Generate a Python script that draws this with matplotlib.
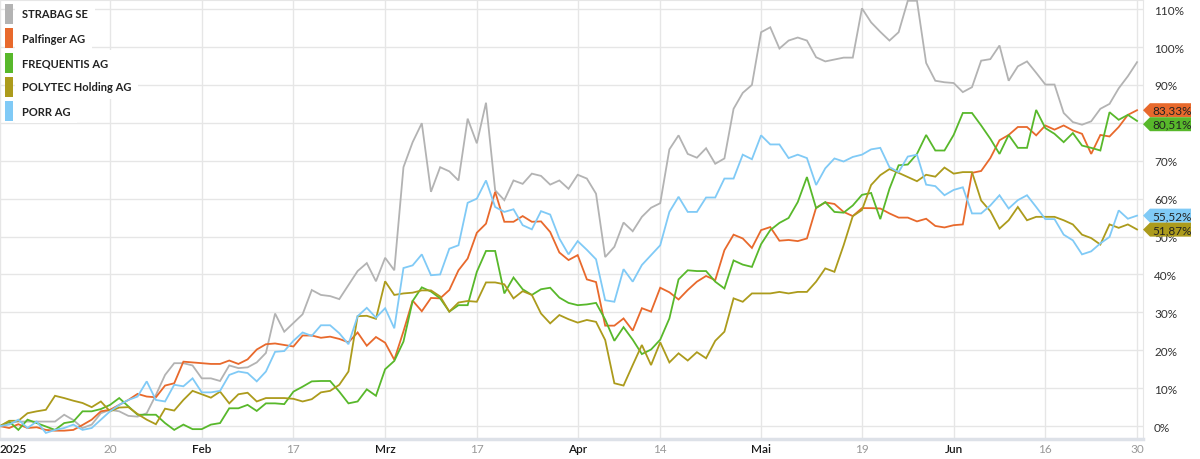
import numpy as np
import pandas as pd
import matplotlib
matplotlib.use('Agg')
import matplotlib.pyplot as plt
from matplotlib.patches import Polygon, Rectangle

plt.rcParams['font.family'] = ['Lato', 'DejaVu Sans']

# trading days of the Vienna exchange, H1 2025
holidays = ['2025-04-18', '2025-04-21', '2025-05-01']
dates = pd.bdate_range('2025-01-02', '2025-06-30')
dates = dates[~dates.isin(pd.to_datetime(holidays))]

names = ['STRABAG SE', 'Palfinger AG', 'FREQUENTIS AG', 'POLYTEC Holding AG', 'PORR AG']
colors = ['#b3b3b3', '#e8692c', '#58b82b', '#ac9b1c', '#80caf6']

# performance in % since 2025-01-02
strabag = [0, 0.8, 1.2, 1.2, 1.2, 1.2, 1.2, 3.0, 1.6, -0.5, 0.4, 3.4, 4.3, 3.9, 2.7, 2.5, 3.4, 8.2, 13.5, 16.6,
           16.6, 16.0, 12.6, 12.6, 11.9, 16.0, 15.3, 15.5, 16.8, 19.3, 29.7, 24.9, 27.2, 29.5, 35.9, 34.6, 34.3, 33.5, 37.2, 40.9,
           43.0, 38.2, 44.4, 41.1, 68.3, 74.9, 79.9, 61.8, 68.3, 67.2, 64.8, 81.1, 74.6, 85.3, 62.2, 59.6, 64.8, 63.9, 66.6, 66.0,
           63.7, 64.8, 62.6, 66.3, 65.3, 61.3, 44.6, 47.3, 53.7, 51.4, 55.2, 57.6, 58.8, 73.0, 76.7, 71.8, 70.8, 73.3, 69.2, 70.6,
           83.7, 87.9, 90.0, 103.9, 105.2, 99.6, 101.7, 102.5, 101.7, 97.3, 96.2, 96.7, 97.2, 97.2, 110.2, 106.5, 104.0, 101.7, 103.9, 112.2,
           112.2, 95.8, 91.1, 90.7, 90.5, 88.1, 89.4, 96.4, 96.8, 100.4, 91.1, 94.9, 96.2, 93.2, 90.1, 90.1, 82.6, 80.2, 79.5, 80.4,
           83.7, 85.0, 89.1, 92.3, 96.0]
palfinger = [0, -0.5, 0.5, -0.5, -0.3, -1.0, -1.2, -1.2, -1.0, 0.3, 1.7, 3.9, 4.3, 5.6, 6.9, 8.5, 7.8, 7.6, 10.7, 11.3,
             17.0, 16.8, 16.6, 16.4, 16.4, 17.3, 16.4, 17.6, 20.2, 21.6, 21.8, 21.4, 21.0, 23.9, 23.9, 23.3, 23.6, 23.0, 22.1, 24.7,
             21.2, 23.5, 22.0, 17.5, 25.0, 33.1, 30.3, 33.8, 33.7, 35.9, 41.1, 44.2, 51.0, 53.4, 61.8, 53.9, 53.9, 55.4, 53.9, 54.0,
             51.2, 45.8, 43.8, 45.1, 38.7, 38.0, 26.5, 26.5, 28.4, 25.2, 31.1, 30.2, 36.5, 35.3, 33.4, 35.9, 38.1, 39.6, 38.5, 46.4,
             50.5, 49.5, 47.0, 51.7, 52.5, 48.9, 49.1, 48.8, 49.5, 57.6, 59.0, 58.6, 56.5, 55.4, 57.5, 57.5, 57.4, 56.1, 55.0, 55.0,
             54.0, 54.7, 52.8, 52.4, 53.0, 53.2, 66.8, 67.3, 70.7, 75.4, 76.8, 78.9, 78.9, 76.7, 79.3, 78.2, 79.3, 78.0, 77.1, 71.8,
             76.8, 76.4, 78.9, 82.1, 83.33]
frequentis = [0, 1.2, -1.0, 1.7, 0.8, -0.1, -1.0, 0.8, 1.2, 3.9, 3.9, 4.5, 5.6, 7.4, 5.2, 3.0, 3.0, 3.0, 0.8, -1.0,
              0.4, -0.8, -0.8, 0.4, 0.8, 4.7, 4.7, 5.6, 4.0, 6.0, 6.0, 5.8, 9.1, 10.4, 11.8, 11.9, 11.9, 9.1, 6.0, 6.5,
              9.7, 8.0, 15.0, 17.2, 22.3, 33.0, 36.6, 35.5, 33.7, 30.2, 31.9, 31.9, 40.7, 46.2, 46.2, 35.0, 39.2, 36.1, 34.6, 36.1,
              36.5, 33.9, 32.5, 31.9, 32.1, 32.5, 28.1, 22.5, 26.1, 22.8, 19.0, 20.2, 22.8, 28.4, 38.7, 41.1, 40.9, 40.9, 38.1, 36.3,
              43.7, 42.6, 42.0, 48.0, 51.7, 53.6, 54.9, 59.1, 65.7, 57.5, 59.1, 56.5, 56.3, 58.2, 61.0, 61.5, 54.6, 62.6, 68.8, 69.0,
              71.8, 76.8, 72.7, 72.7, 76.8, 82.6, 82.6, 79.3, 75.8, 71.8, 76.8, 73.4, 73.4, 83.4, 78.6, 77.1, 74.9, 77.3, 74.0, 73.4,
              72.7, 82.8, 80.8, 82.1, 80.51]
polytec = [0, 1.4, 1.4, 3.4, 3.9, 4.3, 8.0, 7.4, 6.7, 6.1, 5.0, 6.5, 3.9, 4.9, 5.0, 3.2, 1.7, 0.5, 4.6, 4.1,
           6.9, 9.3, 8.4, 7.5, 9.1, 6.0, 8.4, 8.8, 6.5, 7.4, 7.4, 7.4, 7.2, 6.5, 7.1, 8.9, 9.3, 10.9, 14.4, 29.0,
           29.1, 28.3, 38.2, 34.6, 35.0, 35.2, 35.8, 35.8, 34.2, 30.2, 32.6, 33.0, 32.8, 37.9, 37.9, 37.4, 33.7, 35.6, 34.6, 29.7,
           27.1, 29.3, 28.2, 27.3, 28.0, 27.5, 22.7, 11.3, 10.7, 16.1, 21.4, 16.1, 22.1, 16.8, 19.2, 17.3, 19.5, 17.9, 22.5, 24.9,
           33.7, 32.8, 35.0, 35.0, 35.0, 35.4, 35.0, 35.4, 35.4, 38.1, 41.6, 40.7, 47.7, 55.4, 57.0, 63.6, 66.2, 67.8, 66.8, 65.7,
           64.6, 66.3, 65.8, 68.2, 66.6, 67.0, 67.0, 59.5, 56.7, 52.1, 54.3, 57.8, 54.3, 55.2, 55.2, 55.2, 54.3, 53.2, 50.5, 49.6,
           47.9, 53.2, 52.3, 53.2, 51.87]
porr = [0, 0.4, 1.7, -0.5, 1.2, -1.8, -1.0, -0.5, 0.4, -1.0, -0.5, 1.7, 3.9, 5.6, 6.9, 7.8, 11.8, 6.9, 6.5, 10.9,
        10.5, 12.6, 8.9, 8.9, 9.3, 13.5, 14.4, 14.0, 11.8, 14.4, 19.6, 19.8, 22.5, 24.7, 23.8, 26.6, 26.6, 24.5, 21.6, 29.0,
        31.2, 28.6, 31.1, 25.8, 41.7, 42.4, 45.3, 39.8, 40.0, 46.8, 47.7, 58.9, 60.0, 64.8, 57.8, 56.5, 57.2, 53.0, 51.9, 56.7,
        55.8, 49.5, 45.3, 48.8, 46.5, 44.0, 33.2, 32.8, 41.4, 38.1, 42.5, 45.1, 47.7, 56.5, 60.5, 56.5, 56.5, 60.3, 60.3, 65.3,
        65.3, 71.6, 70.4, 76.7, 74.3, 74.3, 70.7, 71.6, 70.7, 63.6, 68.0, 70.6, 69.8, 71.0, 71.6, 73.0, 73.4, 68.3, 67.0, 71.1,
        71.6, 63.7, 63.3, 60.9, 62.3, 63.0, 56.1, 56.1, 58.2, 60.9, 57.4, 59.6, 60.9, 57.8, 54.6, 54.6, 50.5, 49.0, 45.3, 46.1,
        48.2, 49.9, 56.9, 54.7, 55.52]

tick_dates = ['2025-01-02', '2025-01-20', '2025-02-03', '2025-02-17', '2025-03-03', '2025-03-17', '2025-04-01',
              '2025-04-14', '2025-05-02', '2025-05-19', '2025-06-02', '2025-06-16', '2025-06-30']
tick_labels = ['2025', '20', 'Feb', '17', 'Mrz', '17', 'Apr', '14', 'Mai', '19', 'Jun', '16', '30']
y_ticks = list(range(0, 111, 10))

W, H = 1200, 460
fig = plt.figure(figsize=(W / 100, H / 100), dpi=100)
ax = fig.add_axes([0, 20 / H, 1143 / W, 439 / H])

x = np.arange(len(dates))
series = [strabag, palfinger, frequentis, polytec, porr]
for vals, c in zip(series, colors):
    ax.plot(x, vals, color=c, lw=1.3, solid_joinstyle='miter', zorder=3)

ax.set_xlim(0, len(dates) - 1 + 0.65)
ax.set_ylim(-3.4, 112.4)

tick_pos = dates.get_indexer(pd.to_datetime(tick_dates))
ax.set_xticks(tick_pos)
ax.set_xticklabels(tick_labels)
for lab, t in zip(ax.get_xticklabels(), tick_labels):
    if t.isdigit() and len(t) < 4:
        lab.set_color('#999999')
    else:
        lab.set_color('#1a1a1a')
        lab.set_fontweight('semibold')
ax.get_xticklabels()[0].set_horizontalalignment('left')

ax.yaxis.tick_right()
ax.set_yticks(y_ticks)
# the 80% label sits behind the value tags in the original
ax.set_yticklabels(['' if v == 80 else f'{v}%' for v in y_ticks])
ax.tick_params(axis='y', length=0, pad=8, labelsize=8.5, labelcolor='#333333')
ax.tick_params(axis='x', length=0, pad=3, labelsize=8.5)

ax.grid(True, color='#e6e6e6', lw=1)
ax.set_axisbelow(True)
ax.spines['left'].set_visible(False)
ax.spines['bottom'].set_color('#dde1e8')
ax.spines['bottom'].set_linewidth(2.5)
ax.spines['right'].set_color('#e6e6e6')
ax.spines['top'].set_color('#e6e6e6')

# legend at top left
for i, (n, c) in enumerate(zip(names, colors)):
    yc = H - (15 + i * 24.3)
    fig.add_artist(Rectangle((5 / W, (yc - 10) / H), 8 / W, 20 / H, transform=fig.transFigure,
                             facecolor=c, edgecolor='none', zorder=10))
    fig.text(22 / W, yc / H, n, fontsize=8, fontweight='bold', color='#222222', va='center', ha='left',
             zorder=11, bbox=dict(boxstyle='square,pad=0.6', fc='white', ec='none'))

# value tags on the right
last = sorted([(palfinger[-1], colors[1]), (frequentis[-1], colors[2]),
               (porr[-1], colors[4]), (polytec[-1], colors[3])], key=lambda t: -t[0])
fig.canvas.draw()
prev = None
for v, c in last:
    yd = ax.transData.transform((0, v))[1]
    if prev is not None and prev - yd < 14:
        yd = prev - 14
    prev = yd
    x0 = 1143
    pts = [(x0, yd), (x0 + 7, yd + 7), (x0 + 48, yd + 7), (x0 + 48, yd - 7), (x0 + 7, yd - 7)]
    fig.add_artist(Polygon(pts, closed=True, transform=None, facecolor=c, edgecolor='none', zorder=10))
    fig.text((x0 + 9) / W, yd / H, f'{v:.2f}%'.replace('.', ','), fontsize=8.5, color='#222222',
             va='center', ha='left', zorder=11)

fig.savefig('out.png', dpi=100)
